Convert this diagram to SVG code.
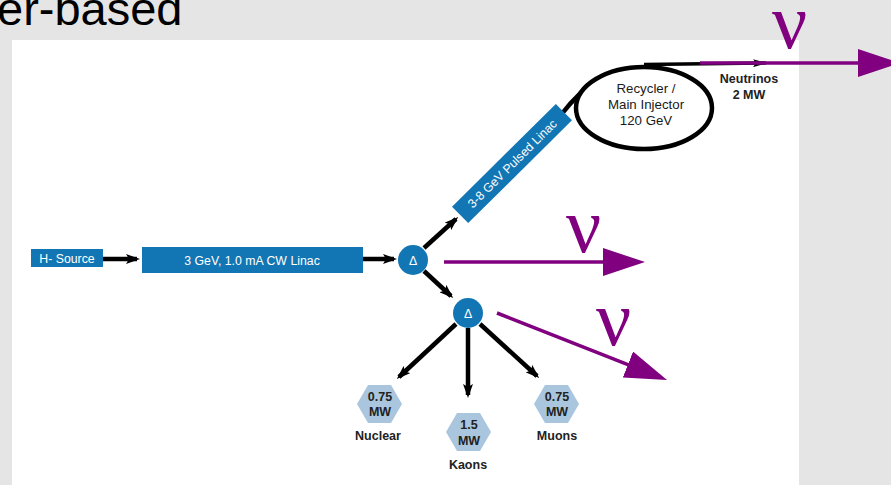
<svg xmlns="http://www.w3.org/2000/svg" width="891" height="485" viewBox="0 0 891 485">
<style>
.box{fill:#1276b4}
.wt{fill:#fff;font-family:"Liberation Sans",Arial,sans-serif;font-size:12.3px}
.dt{fill:#222;font-family:"Liberation Sans",Arial,sans-serif;font-size:12.5px;font-weight:bold}
.rt{fill:#1a1a1a;font-family:"Liberation Sans",Arial,sans-serif;font-size:13.3px}
.hex{fill:#a9c6de}
.blk{stroke:#000;stroke-width:4.5;fill:none}
.pur{stroke:#800080;stroke-width:3.5;fill:none}
.nu{fill:#800080;font-family:"Liberation Serif","Times New Roman",serif;font-size:78px}
</style>
<defs>
<marker id="ah" viewBox="0 0 14 10" refX="11" refY="5" markerWidth="14" markerHeight="10" markerUnits="userSpaceOnUse" orient="auto">
<path d="M0,0 L14,5 L0,10 L3,5 z" fill="#000"/>
</marker>
<marker id="ahs" viewBox="0 0 14 8" refX="13" refY="4" markerWidth="14" markerHeight="8" markerUnits="userSpaceOnUse" orient="auto">
<path d="M0,0 L14,4 L0,8 L3,4 z" fill="#000"/>
</marker>
<marker id="pa" viewBox="0 0 42 28" refX="32" refY="14" markerWidth="42" markerHeight="28" markerUnits="userSpaceOnUse" orient="auto">
<path d="M0,0 L42,14 L0,28 z" fill="#800080"/>
</marker>
</defs>
<rect x="0" y="0" width="891" height="485" fill="#e5e5e5"/>
<rect x="12" y="40" width="787" height="445" fill="#fff"/>
<text x="-3" y="25" font-family="Liberation Sans,Arial,sans-serif" font-size="47" fill="#000">er-based</text>

<g id="connectors">
<line class="blk" x1="103" y1="259" x2="137" y2="259" marker-end="url(#ah)"/>
<line class="blk" x1="363" y1="259" x2="394" y2="259" marker-end="url(#ah)"/>
<line class="blk" x1="424" y1="248" x2="456" y2="219" marker-end="url(#ah)"/>
<line class="blk" x1="424" y1="271" x2="451" y2="296" marker-end="url(#ah)"/>
<line class="blk" x1="456" y1="324" x2="399" y2="377" marker-end="url(#ah)"/>
<line class="blk" x1="468" y1="328" x2="468" y2="395" marker-end="url(#ah)"/>
<line class="blk" x1="480" y1="324" x2="537" y2="376" marker-end="url(#ah)"/>
<path class="blk" d="M560 116 Q580 90 602 77"/>
<line x1="644" y1="64.5" x2="766" y2="63" stroke="#000" stroke-width="3.5" marker-end="url(#ahs)"/>
<line class="pur" x1="700" y1="63" x2="890" y2="63" marker-end="url(#pa)"/>
<line class="pur" x1="444" y1="262" x2="635" y2="262" marker-end="url(#pa)"/>
<line class="pur" x1="497" y1="313" x2="657.7" y2="376.3" marker-end="url(#pa)"/>
</g>

<g id="nu-top"><text class="nu" x="772" y="48">ν</text></g>
<g id="nu-mid"><text class="nu" x="566" y="252">ν</text></g>
<g id="nu-low"><text class="nu" x="596" y="345">ν</text></g>

<g id="h-source">
<rect class="box" x="31" y="249" width="72" height="18"/>
<text class="wt" x="67" y="262.5" text-anchor="middle">H- Source</text>
</g>
<g id="cw-linac">
<rect class="box" x="142" y="247" width="221" height="26"/>
<text class="wt" x="252" y="264.5" text-anchor="middle">3 GeV, 1.0 mA CW Linac</text>
</g>
<g id="delta1">
<circle cx="413" cy="260" r="15" class="box"/>
<text class="wt" x="413" y="265" text-anchor="middle" font-size="13">Δ</text>
</g>
<g id="delta2">
<circle cx="468" cy="313" r="15" class="box"/>
<text class="wt" x="468" y="318" text-anchor="middle" font-size="13">Δ</text>
</g>
<g id="pulsed-linac" transform="translate(512,163.5) rotate(-44.7)">
<rect class="box" x="-73" y="-11.5" width="146" height="23"/>
<text class="wt" x="0" y="4.5" text-anchor="middle" font-size="13.2">3-8 GeV Pulsed Linac</text>
</g>
<g id="recycler">
<ellipse cx="644" cy="108" rx="68" ry="41" fill="#fff" stroke="#000" stroke-width="4.5"/>
<text class="rt" x="646" y="93" text-anchor="middle">Recycler /</text>
<text class="rt" x="646" y="109" text-anchor="middle">Main Injector</text>
<text class="rt" x="646" y="125" text-anchor="middle">120 GeV</text>
</g>
<g id="neutrinos">
<text class="dt" x="749" y="83" text-anchor="middle">Neutrinos</text>
<text class="dt" x="749" y="99" text-anchor="middle">2 MW</text>
</g>
<g id="nuclear">
<polygon class="hex" points="357,404 368,385 391,385 402,404 391,423 368,423"/>
<text class="dt" x="380" y="401" text-anchor="middle">0.75</text>
<text class="dt" x="380" y="416" text-anchor="middle">MW</text>
<text class="dt" x="378" y="440" text-anchor="middle">Nuclear</text>
</g>
<g id="kaons">
<polygon class="hex" points="446,432 457,413 480,413 491,432 480,451 457,451"/>
<text class="dt" x="469" y="429" text-anchor="middle">1.5</text>
<text class="dt" x="469" y="445" text-anchor="middle">MW</text>
<text class="dt" x="468" y="469" text-anchor="middle">Kaons</text>
</g>
<g id="muons">
<polygon class="hex" points="534,404 545,385 568,385 579,404 568,423 545,423"/>
<text class="dt" x="557" y="401" text-anchor="middle">0.75</text>
<text class="dt" x="557" y="416" text-anchor="middle">MW</text>
<text class="dt" x="557" y="440" text-anchor="middle">Muons</text>
</g>
</svg>
